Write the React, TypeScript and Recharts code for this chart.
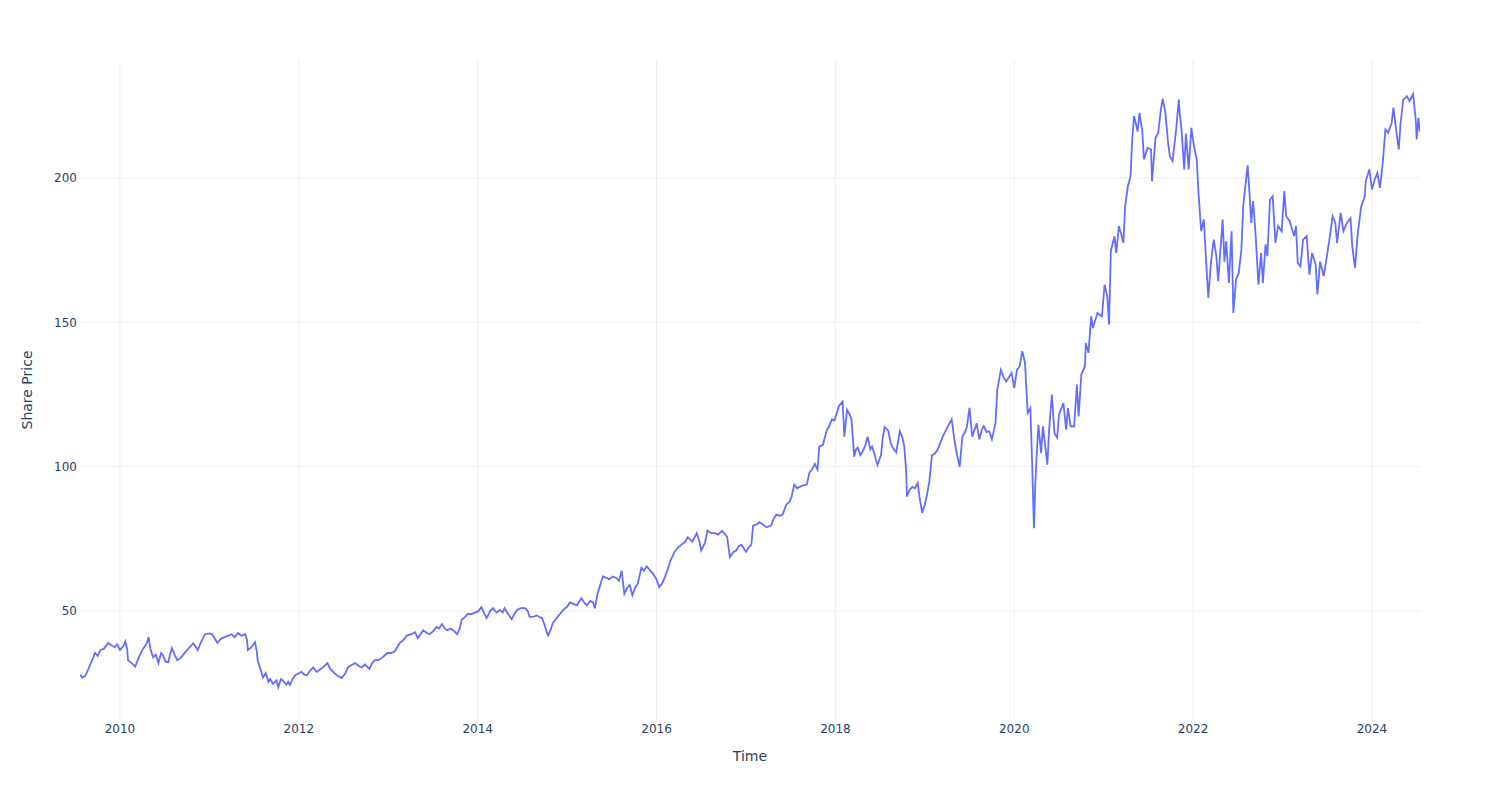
import { LineChart, Line, XAxis, YAxis, CartesianGrid } from "recharts"

// [decimal year, share price], split by period
const prices2009to2011: [number, number][] = [
  [2009.555, 28], [2009.58, 27], [2009.61, 27.5], [2009.64, 29.5], [2009.66, 31], [2009.69, 33],
  [2009.72, 35.5], [2009.75, 34.5], [2009.78, 36.5], [2009.82, 37], [2009.87, 39], [2009.91, 38],
  [2009.94, 37.5], [2009.97, 38.5], [2010.0, 36.5], [2010.04, 38], [2010.06, 39.5], [2010.08, 37],
  [2010.09, 33], [2010.13, 32], [2010.17, 30.8], [2010.21, 34], [2010.25, 36.5], [2010.3, 38.9],
  [2010.32, 41], [2010.34, 37], [2010.37, 34], [2010.4, 35], [2010.43, 32], [2010.46, 35.5],
  [2010.48, 34.8], [2010.51, 32.5], [2010.54, 32.3], [2010.56, 35], [2010.58, 37.2], [2010.61, 35],
  [2010.64, 33], [2010.68, 33.8], [2010.73, 35.8], [2010.78, 37.5], [2010.82, 38.9], [2010.85, 37.5],
  [2010.87, 36.5], [2010.91, 39.5], [2010.95, 42], [2011.0, 42.3], [2011.03, 42], [2011.06, 40.5],
  [2011.09, 39], [2011.13, 40.5], [2011.17, 41], [2011.21, 41.5], [2011.25, 42], [2011.28, 41],
  [2011.32, 42.4], [2011.36, 41.5], [2011.4, 42], [2011.42, 40], [2011.43, 36.5], [2011.47, 37.5],
  [2011.51, 39.2], [2011.53, 36], [2011.54, 33], [2011.57, 30], [2011.6, 27], [2011.63, 28.5],
  [2011.66, 25.5], [2011.68, 26.5], [2011.71, 24.8], [2011.75, 26], [2011.77, 23.7], [2011.8, 26.5],
  [2011.82, 26], [2011.86, 24.5], [2011.88, 25.5], [2011.9, 24.4], [2011.93, 26.5], [2011.96, 27.8],
]

const prices2012to2014: [number, number][] = [
  [2012.0, 28.5], [2012.03, 29], [2012.06, 28], [2012.09, 27.8], [2012.13, 29.5], [2012.16, 30.5],
  [2012.2, 29], [2012.23, 29.6], [2012.27, 30.5], [2012.32, 32], [2012.35, 30], [2012.4, 28.5],
  [2012.44, 27.5], [2012.48, 26.8], [2012.52, 28.5], [2012.55, 30.6], [2012.6, 31.5], [2012.63, 32],
  [2012.67, 31], [2012.7, 30.5], [2012.74, 31.5], [2012.79, 30], [2012.82, 32], [2012.85, 33],
  [2012.89, 33], [2012.93, 33.8], [2012.99, 35.5], [2013.03, 35.5], [2013.07, 36], [2013.1, 37.5],
  [2013.13, 39], [2013.17, 40], [2013.21, 41.6], [2013.26, 42], [2013.3, 42.7], [2013.33, 40.6],
  [2013.36, 42], [2013.39, 43.4], [2013.43, 42.5], [2013.46, 42], [2013.5, 43], [2013.54, 44.5],
  [2013.57, 44], [2013.6, 45.5], [2013.63, 44], [2013.66, 43.4], [2013.7, 44], [2013.74, 43],
  [2013.77, 42], [2013.8, 44], [2013.82, 47], [2013.86, 48], [2013.89, 49], [2013.93, 49],
  [2013.97, 49.5], [2014.01, 50], [2014.04, 51.4], [2014.07, 49.5], [2014.1, 47.6], [2014.14, 50],
  [2014.17, 51], [2014.21, 49.5], [2014.25, 50.4], [2014.28, 49.5], [2014.3, 51], [2014.34, 49],
  [2014.38, 47.2], [2014.41, 49], [2014.44, 50.4], [2014.48, 51], [2014.53, 51], [2014.56, 50],
  [2014.58, 48], [2014.62, 48], [2014.66, 48.5], [2014.7, 47.8], [2014.72, 47.6], [2014.75, 45],
  [2014.78, 42], [2014.79, 41.6], [2014.82, 44], [2014.84, 45.8], [2014.88, 47.5], [2014.92, 49],
  [2014.96, 50.5],
]

const prices2015to2017: [number, number][] = [
  [2015.0, 51.5], [2015.03, 53], [2015.07, 52.5], [2015.11, 52], [2015.16, 54.5], [2015.19, 53],
  [2015.22, 52], [2015.26, 53.5], [2015.29, 53], [2015.31, 51], [2015.34, 56], [2015.37, 59],
  [2015.4, 62], [2015.44, 61.5], [2015.47, 61], [2015.51, 62], [2015.55, 61.5], [2015.58, 60.5],
  [2015.61, 64], [2015.64, 56], [2015.67, 58], [2015.7, 59], [2015.73, 55.5], [2015.76, 58],
  [2015.79, 59.5], [2015.83, 65], [2015.86, 64], [2015.89, 65.5], [2015.93, 64], [2015.96, 63],
  [2016.0, 61], [2016.03, 58.3], [2016.06, 59.5], [2016.09, 61.5], [2016.12, 64], [2016.15, 67],
  [2016.2, 70.5], [2016.24, 72], [2016.28, 73], [2016.32, 74], [2016.35, 75.6], [2016.4, 74],
  [2016.45, 77], [2016.48, 74], [2016.5, 71], [2016.54, 73.5], [2016.57, 77.8], [2016.61, 77],
  [2016.65, 77], [2016.69, 76.5], [2016.73, 77.8], [2016.77, 76.5], [2016.79, 75.6], [2016.82, 68.7],
  [2016.86, 70.5], [2016.89, 71], [2016.92, 72.5], [2016.95, 73], [2017.0, 70.5], [2017.03, 72],
  [2017.06, 73], [2017.08, 79.6], [2017.12, 80], [2017.15, 80.8], [2017.19, 80], [2017.23, 79],
  [2017.28, 79.6], [2017.31, 82], [2017.34, 83.4], [2017.38, 83], [2017.41, 83.4], [2017.45, 86.8],
  [2017.49, 88], [2017.51, 89.6], [2017.54, 93.8], [2017.57, 92.5], [2017.6, 93], [2017.64, 93.5],
  [2017.68, 93.8], [2017.71, 98], [2017.74, 99], [2017.77, 101], [2017.8, 99], [2017.82, 107],
  [2017.86, 107.5], [2017.9, 112.3], [2017.93, 114], [2017.96, 116.4], [2017.99, 116],
]

const prices2018to2020: [number, number][] = [
  [2018.02, 119], [2018.04, 121], [2018.08, 122.5], [2018.1, 110.4], [2018.13, 119.7], [2018.16, 118],
  [2018.18, 116.4], [2018.21, 103.5], [2018.23, 106], [2018.25, 106.6], [2018.28, 104], [2018.3, 105],
  [2018.33, 107], [2018.36, 110.4], [2018.39, 106], [2018.41, 107], [2018.44, 104], [2018.47, 100.6],
  [2018.51, 104], [2018.53, 110], [2018.55, 113.8], [2018.59, 112.5], [2018.62, 108], [2018.64, 106.6],
  [2018.68, 105], [2018.72, 112.3], [2018.75, 110], [2018.77, 107], [2018.79, 99], [2018.8, 89.6],
  [2018.83, 92], [2018.86, 93], [2018.89, 92.5], [2018.92, 94.4], [2018.94, 89.6], [2018.97, 84],
  [2019.0, 87], [2019.02, 89.6], [2019.05, 94.8], [2019.08, 104], [2019.11, 104.5], [2019.14, 105.7],
  [2019.17, 108], [2019.2, 110.4], [2019.25, 113.5], [2019.3, 116.4], [2019.33, 109.5], [2019.36, 104],
  [2019.39, 100], [2019.42, 110.4], [2019.45, 112], [2019.47, 113.8], [2019.5, 120.4], [2019.53, 110.4],
  [2019.58, 115], [2019.61, 109.5], [2019.64, 113], [2019.66, 114], [2019.69, 112], [2019.72, 112.3],
  [2019.75, 109.5], [2019.79, 115], [2019.81, 126.6], [2019.85, 133.5], [2019.88, 131], [2019.91, 129.5],
  [2019.94, 131], [2019.97, 132.4], [2020.0, 127.2], [2020.03, 133.5], [2020.06, 134.7], [2020.09, 140],
  [2020.12, 136], [2020.15, 118.6], [2020.18, 120.3], [2020.2, 101.2], [2020.22, 78.7], [2020.235, 93.7],
  [2020.25, 103.5], [2020.27, 114.5], [2020.3, 104.7], [2020.32, 114], [2020.36, 103.5], [2020.37, 100.7],
  [2020.39, 112.8], [2020.42, 125], [2020.45, 111.6], [2020.48, 110], [2020.5, 118], [2020.55, 122],
  [2020.58, 112.8], [2020.6, 120.3], [2020.63, 114], [2020.67, 114], [2020.7, 128.4], [2020.72, 117.4],
  [2020.75, 131.9], [2020.79, 134.7], [2020.8, 142.8], [2020.83, 139.4], [2020.86, 152], [2020.88, 148],
  [2020.93, 153.2], [2020.98, 152],
]

const prices2021to2022: [number, number][] = [
  [2021.01, 163], [2021.04, 159], [2021.06, 149.2], [2021.08, 174.6], [2021.12, 179.8], [2021.14, 174],
  [2021.17, 183.3], [2021.2, 180], [2021.22, 177.5], [2021.24, 190.2], [2021.27, 197], [2021.3, 200.6],
  [2021.32, 213.9], [2021.34, 221.4], [2021.38, 216], [2021.4, 222.5], [2021.43, 216.7], [2021.45, 206.4],
  [2021.49, 210.4], [2021.53, 209.8], [2021.54, 198.8], [2021.58, 213.9], [2021.61, 215.6], [2021.64, 223.7],
  [2021.66, 227.4], [2021.69, 222.5], [2021.72, 212.1], [2021.74, 207.5], [2021.77, 205.8], [2021.81, 216.7],
  [2021.84, 227.1], [2021.85, 222.5], [2021.87, 216.7], [2021.9, 202.9], [2021.92, 215.3], [2021.95, 202.9],
  [2021.98, 217.3], [2022.01, 211], [2022.04, 206.4], [2022.06, 194.8], [2022.09, 181.5], [2022.12, 185.6],
  [2022.14, 174], [2022.17, 158.4], [2022.2, 171], [2022.23, 178.6], [2022.26, 172.9], [2022.28, 164.2],
  [2022.33, 185.6], [2022.35, 171], [2022.37, 178], [2022.4, 163.6], [2022.43, 181.5], [2022.45, 153.2],
  [2022.48, 164.8], [2022.51, 167], [2022.54, 175.2], [2022.56, 190.2], [2022.58, 196], [2022.61, 204.3],
  [2022.63, 194.8], [2022.65, 184.4], [2022.67, 192], [2022.7, 179.8], [2022.73, 163], [2022.76, 174],
  [2022.78, 163.6], [2022.81, 177], [2022.83, 172.9], [2022.86, 192.5], [2022.89, 193.6], [2022.92, 177.5],
  [2022.95, 183.3], [2022.99, 181.5],
]

const prices2023to2024: [number, number][] = [
  [2023.02, 195.4], [2023.04, 186.7], [2023.08, 185], [2023.13, 179.8], [2023.15, 183.3], [2023.17, 170.5],
  [2023.2, 169.4], [2023.23, 178.6], [2023.27, 179.8], [2023.3, 166.5], [2023.33, 174], [2023.37, 170],
  [2023.39, 159.6], [2023.42, 171], [2023.46, 166], [2023.49, 171.7], [2023.53, 179.8], [2023.56, 186.7],
  [2023.59, 184.4], [2023.61, 177.5], [2023.65, 187.9], [2023.68, 181.5], [2023.72, 184.4], [2023.76, 186],
  [2023.78, 176.3], [2023.81, 168.8], [2023.84, 180.4], [2023.88, 190.2], [2023.92, 193.6], [2023.93, 198.8],
  [2023.97, 202.9], [2024.0, 196], [2024.03, 199.4], [2024.06, 201.7], [2024.09, 196.5], [2024.12, 205.2],
  [2024.15, 216.7], [2024.18, 215.6], [2024.22, 219], [2024.24, 224.3], [2024.27, 216.7], [2024.3, 209.8],
  [2024.32, 219], [2024.35, 227.1], [2024.39, 228.3], [2024.42, 226.6], [2024.46, 229], [2024.49, 220],
  [2024.5, 213.3], [2024.52, 220.8], [2024.535, 216],
]

const yearTicks = [2010, 2012, 2014, 2016, 2018, 2020, 2022, 2024]
const priceTicks = [50, 100, 150, 200]

const data = [
  ...prices2009to2011,
  ...prices2012to2014,
  ...prices2015to2017,
  ...prices2018to2020,
  ...prices2021to2022,
  ...prices2023to2024,
].map(([t, price]) => ({ t, price }))

const font = "'DejaVu Sans', Verdana, sans-serif"
const textColor = "#2a3f5f"
const gridColor = "#ebf0f8"

export default function App() {
  return (
    <div style={{ position: "absolute", left: 0, top: 0, width: 1500, height: 800, background: "#fff", fontFamily: font }}>
      <LineChart width={1500} height={800} data={data} margin={{ top: 60, right: 80, bottom: 50, left: 20 }}>
        {/* only at the ticks, no frame round the plot */}
        <CartesianGrid stroke={gridColor} strokeWidth={1} syncWithTicks />
        <XAxis
          dataKey="t"
          type="number"
          domain={[2009.553, 2024.537]}
          ticks={yearTicks}
          allowDataOverflow
          axisLine={false}
          tickLine={false}
          tickSize={0}
          tickMargin={4}
          height={30}
          tick={{ fill: textColor, fontSize: 12, fontFamily: font }}
          label={{
            content: ({ viewBox }: any) => (
              <text
                x={viewBox.x + viewBox.width / 2}
                y={viewBox.y + 36}
                textAnchor="middle"
                dominantBaseline="central"
                fill={textColor}
                fontSize={14}
                fontFamily={font}
              >
                Time
              </text>
            ),
          }}
        />
        <YAxis
          type="number"
          domain={[12.3, 240.8]}
          ticks={priceTicks}
          allowDataOverflow
          axisLine={false}
          tickLine={false}
          tickSize={0}
          tickMargin={3}
          width={60}
          tick={{ fill: textColor, fontSize: 12, fontFamily: font }}
          label={{
            content: ({ viewBox }: any) => {
              const cx = viewBox.x + 7
              const cy = viewBox.y + viewBox.height / 2
              return (
                <text
                  x={cx}
                  y={cy}
                  transform={`rotate(-90 ${cx} ${cy})`}
                  textAnchor="middle"
                  dominantBaseline="central"
                  fill={textColor}
                  fontSize={14}
                  fontFamily={font}
                >
                  Share Price
                </text>
              )
            },
          }}
        />
        <Line
          type="linear"
          dataKey="price"
          stroke="#636efa"
          strokeWidth={1.8}
          dot={false}
          isAnimationActive={false}
        />
      </LineChart>
    </div>
  )
}
